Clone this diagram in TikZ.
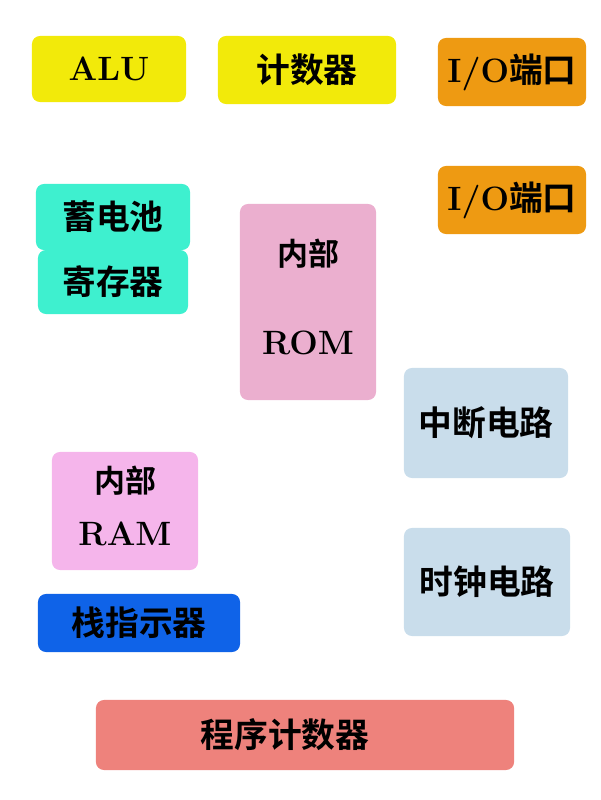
\documentclass[tikz,border=0pt]{standalone}
\usepackage{fontspec}
\newfontfamily\cjk{Noto Sans CJK SC}[BoldFont={Noto Sans CJK SC Bold}]
\usepackage{tikz}
\usetikzlibrary{positioning}

\definecolor{unityellow}{HTML}{F2EA0A}
\definecolor{unitorange}{HTML}{EE9A12}
\definecolor{unitteal}{HTML}{3EF0CF}
\definecolor{unitrom}{HTML}{EBAFCF}
\definecolor{unitram}{HTML}{F5B5EB}
\definecolor{unitblue}{HTML}{0F63E8}
\definecolor{unitsky}{HTML}{C9DDEB}
\definecolor{unitsalmon}{HTML}{EE827C}

\newcommand{\lat}[1]{{\rmfamily\bfseries\fontsize{24}{28}\selectfont #1}}

\begin{document}
\begin{tikzpicture}[
    x=0.025cm, y=-0.025cm,
    unit/.style={rectangle, rounded corners=0.2cm, inner sep=0pt, align=center, font=\fontsize{24}{28}\selectfont\bfseries\cjk},
]
    % frame of the page
    \useasboundingbox (0, 0) rectangle (600, 800);

    % Row 1: ALU, counter and first I/O port
    \node[unit, fill=unityellow, minimum width=3.85cm, minimum height=1.65cm] (alu) at (109, 69) {\lat{ALU}};
    \node[unit, fill=unityellow, minimum width=4.45cm, minimum height=1.7cm] (cnt) at (307, 70) {计数器};
    \node[unit, fill=unitorange, minimum width=3.7cm, minimum height=1.7cm] (ioa) at (512, 72) {\lat{I/O}端口};

    % Row 2: second I/O port, accumulator, register and ROM
    \node[unit, fill=unitorange, minimum width=3.7cm, minimum height=1.7cm] (iob) at (512, 200) {\lat{I/O}端口};
    \node[unit, fill=unitteal, minimum width=3.85cm, minimum height=1.65cm] (acc) at (113, 217) {蓄电池};
    \node[unit, fill=unitteal, minimum width=3.75cm, minimum height=1.6cm] (reg) at (113, 282) {寄存器};
    \node[unit, fill=unitrom, minimum width=3.4cm, minimum height=4.9cm] (rom) at (308, 302)
        {\raisebox{0.25cm}{\begin{tabular}{@{}c@{}}\fontsize{22}{26}\selectfont 内部\\[1.25cm]\lat{ROM}\end{tabular}}};

    % Row 3: interrupt and clock circuits, RAM and stack pointer
    \node[unit, fill=unitsky, minimum width=4.1cm, minimum height=2.75cm] (intr) at (486, 423) {中断电路};
    \node[unit, fill=unitram, minimum width=3.65cm, minimum height=2.95cm] (ram) at (125, 511)
        {\raisebox{0.1cm}{\begin{tabular}{@{}c@{}}\fontsize{22}{26}\selectfont 内部\\[0.35cm]\lat{RAM}\end{tabular}}};
    \node[unit, fill=unitsky, minimum width=4.15cm, minimum height=2.7cm] (clk) at (487, 582) {时钟电路};
    \node[unit, fill=unitblue, minimum width=5.05cm, minimum height=1.45cm] (sp) at (139, 623) {栈指示器};

    % Row 4: program counter
    \node[unit, fill=unitsalmon, minimum width=10.45cm, minimum height=1.75cm] (pc) at (305, 735) {\hspace*{-1cm}程序计数器};
\end{tikzpicture}
\end{document}
